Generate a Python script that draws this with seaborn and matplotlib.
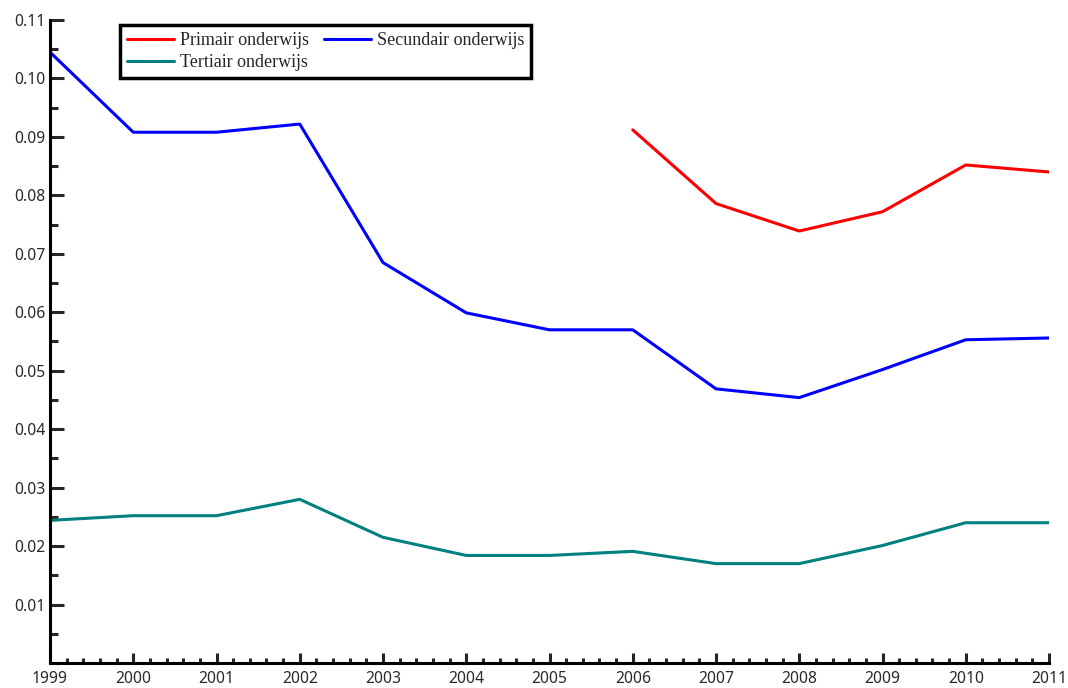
import numpy as np
import pandas as pd
import matplotlib
matplotlib.use("Agg")
import matplotlib.pyplot as plt
import seaborn as sns
from matplotlib.ticker import AutoMinorLocator

years = list(range(1999, 2012))
primair = [np.nan] * 7 + [0.0912, 0.0786, 0.0739, 0.0772, 0.0852, 0.0840]
secundair = [0.1045, 0.0908, 0.0908, 0.0922, 0.0685, 0.0599, 0.0570,
             0.0570, 0.0469, 0.0454, 0.0502, 0.0553, 0.0556]
tertiair = [0.0244, 0.0252, 0.0252, 0.0280, 0.0215, 0.0184, 0.0184,
            0.0191, 0.0170, 0.0170, 0.0201, 0.0240, 0.0240]
names = ["Primair onderwijs", "Secundair onderwijs", "Tertiair onderwijs"]
colors = ["#ff0000", "#0000ff", "#008080"]
y_ticks = [0.01, 0.02, 0.03, 0.04, 0.05, 0.06, 0.07, 0.08, 0.09, 0.10, 0.11]

df = pd.DataFrame({"jaar": years, names[0]: primair, names[1]: secundair, names[2]: tertiair})
long = df.melt(id_vars="jaar", var_name="reeks", value_name="waarde").dropna()

sns.set_style("white")
plt.rcParams["font.family"] = ["Liberation Serif", "DejaVu Serif"]

fig = plt.figure(figsize=(10.68, 6.88), dpi=100)
ax = fig.add_axes([50 / 1068, 1 - 663 / 688, 999 / 1068, 643 / 688])

sns.lineplot(data=long, x="jaar", y="waarde", hue="reeks", hue_order=names,
             palette=colors, linewidth=2.2, ax=ax)

ax.set_xlim(1999, 2011)
ax.set_ylim(0, 0.11)
ax.set_xticks(years)
ax.set_yticks(y_ticks)
ax.set_yticklabels([f"{v:.2f}" for v in y_ticks])
ax.xaxis.set_minor_locator(AutoMinorLocator(5))
ax.yaxis.set_minor_locator(AutoMinorLocator(2))
ax.set_xlabel("")
ax.set_ylabel("")
for lab in ax.get_xticklabels() + ax.get_yticklabels():
    lab.set_family("Noto Sans")
    lab.set_fontsize(11.3)
    lab.set_color("#2a2a2a")

for s in ["top", "right"]:
    ax.spines[s].set_visible(False)
for s in ["left", "bottom"]:
    ax.spines[s].set_linewidth(2.2)
    ax.spines[s].set_color("black")

ax.tick_params(axis="y", which="major", direction="in", length=10, width=2.2, pad=3, left=True)
ax.tick_params(axis="y", which="minor", direction="in", length=6, width=2.2, left=True)
ax.tick_params(axis="x", which="major", direction="in", length=7, width=2.2, pad=6, bottom=True)
ax.tick_params(axis="x", which="minor", direction="in", length=3.5, width=2.2, bottom=True)

# row-wise legend order: Primair, Secundair / Tertiair
handles, labels = ax.get_legend_handles_labels()
order = [0, 2, 1]
leg = ax.legend([handles[i] for i in order], [labels[i] for i in order],
                ncol=2, loc="upper left", bbox_to_anchor=(120 / 1068, 1 - 25 / 688),
                bbox_transform=fig.transFigure, fontsize=13, frameon=True,
                fancybox=False, framealpha=1, borderpad=0.38, handlelength=2.6,
                handletextpad=0.35, columnspacing=0.8, labelspacing=0.3,
                borderaxespad=0)
leg.get_frame().set_edgecolor("black")
leg.get_frame().set_linewidth(2.5)

fig.savefig("out.png", dpi=100)
